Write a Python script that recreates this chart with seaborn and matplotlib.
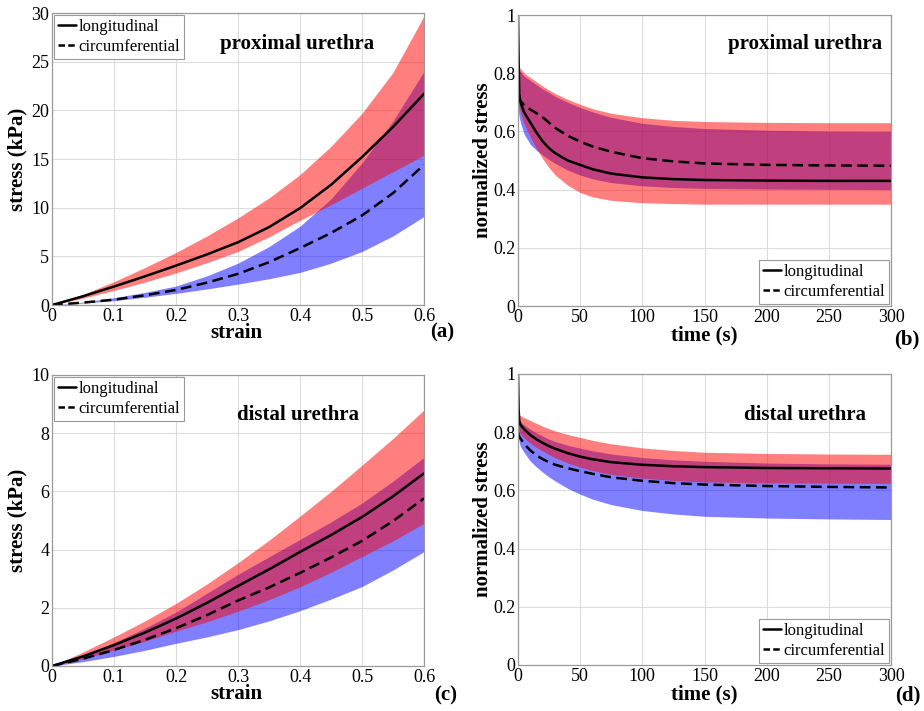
import numpy as np
import pandas as pd
import matplotlib
matplotlib.use("Agg")
import matplotlib.pyplot as plt
import seaborn as sns

# ---------------- data ----------------
strain = [0, 0.05, 0.1, 0.15, 0.2, 0.25, 0.3, 0.35, 0.4, 0.45, 0.5, 0.55, 0.6]

# (a) proximal urethra, stress (kPa)
a_long = [0, 0.9, 1.9, 2.95, 4.05, 5.2, 6.45, 8.0, 9.95, 12.35, 15.2, 18.3, 21.7]
a_long_hi = [0, 1.1, 2.4, 3.85, 5.4, 7.1, 8.95, 11.0, 13.4, 16.3, 19.7, 23.9, 29.7]
a_long_lo = [0, 0.7, 1.5, 2.35, 3.3, 4.35, 5.5, 7.0, 8.7, 10.3, 12.0, 13.7, 15.4]
a_circ = [0, 0.25, 0.55, 1.0, 1.55, 2.3, 3.2, 4.4, 5.85, 7.4, 9.2, 11.5, 14.4]
a_circ_hi = [0, 0.3, 0.75, 1.3, 1.95, 3.0, 4.3, 6.0, 8.1, 10.9, 14.6, 18.9, 24.0]
a_circ_lo = [0, 0.2, 0.45, 0.8, 1.2, 1.65, 2.15, 2.7, 3.35, 4.3, 5.5, 7.1, 9.1]

# (c) distal urethra, stress (kPa)
c_long = [0, 0.33, 0.72, 1.15, 1.63, 2.17, 2.75, 3.32, 3.92, 4.5, 5.12, 5.83, 6.62]
c_long_hi = [0, 0.48, 1.0, 1.55, 2.15, 2.82, 3.55, 4.32, 5.15, 6.0, 6.9, 7.82, 8.8]
c_long_lo = [0, 0.25, 0.55, 0.85, 1.2, 1.52, 1.88, 2.28, 2.72, 3.22, 3.76, 4.3, 4.9]
c_circ = [0, 0.25, 0.55, 0.9, 1.3, 1.75, 2.25, 2.7, 3.2, 3.73, 4.3, 4.98, 5.76]
c_circ_hi = [0, 0.36, 0.8, 1.3, 1.85, 2.5, 3.15, 3.75, 4.35, 4.95, 5.6, 6.35, 7.17]
c_circ_lo = [0, 0.15, 0.33, 0.54, 0.78, 1.0, 1.25, 1.55, 1.9, 2.3, 2.73, 3.3, 3.93]

time_s = [0, 0.5, 1, 2, 5, 10, 15, 20, 25, 30, 40, 50, 60, 75, 100, 125, 150, 200, 250, 300]

# (b) proximal urethra, normalized stress
b_long = [1.0, 0.85, 0.73, 0.70, 0.665, 0.63, 0.595, 0.565, 0.542, 0.525, 0.5, 0.485,
          0.47, 0.455, 0.442, 0.436, 0.433, 0.431, 0.43, 0.43]
b_long_hi = [0.83, 0.825, 0.82, 0.815, 0.80, 0.785, 0.77, 0.755, 0.742, 0.73, 0.71, 0.693,
             0.678, 0.662, 0.647, 0.638, 0.634, 0.631, 0.63, 0.63]
b_long_lo = [0.70, 0.69, 0.68, 0.665, 0.625, 0.58, 0.54, 0.505, 0.475, 0.45, 0.415, 0.39,
             0.375, 0.363, 0.355, 0.352, 0.35, 0.35, 0.35, 0.35]
b_circ = [0.72, 0.715, 0.71, 0.705, 0.69, 0.675, 0.662, 0.648, 0.63, 0.612, 0.585, 0.565,
          0.548, 0.53, 0.508, 0.497, 0.49, 0.485, 0.483, 0.482]
b_circ_hi = [0.82, 0.815, 0.81, 0.805, 0.79, 0.775, 0.76, 0.745, 0.733, 0.72, 0.70, 0.682,
             0.667, 0.648, 0.628, 0.617, 0.61, 0.604, 0.601, 0.60]
b_circ_lo = [0.68, 0.665, 0.65, 0.63, 0.59, 0.555, 0.535, 0.518, 0.503, 0.49, 0.467, 0.45,
             0.437, 0.424, 0.413, 0.407, 0.404, 0.402, 0.401, 0.40]

# (d) distal urethra, normalized stress
d_long = [1.0, 0.88, 0.84, 0.825, 0.81, 0.79, 0.775, 0.763, 0.752, 0.743, 0.728, 0.716,
          0.707, 0.697, 0.688, 0.683, 0.68, 0.677, 0.676, 0.675]
d_long_hi = [0.865, 0.862, 0.86, 0.857, 0.85, 0.84, 0.83, 0.82, 0.812, 0.804, 0.792, 0.782,
             0.772, 0.76, 0.746, 0.737, 0.731, 0.727, 0.725, 0.724]
d_long_lo = [0.82, 0.81, 0.80, 0.795, 0.78, 0.762, 0.747, 0.735, 0.723, 0.712, 0.694, 0.68,
             0.668, 0.655, 0.642, 0.634, 0.629, 0.626, 0.625, 0.624]
d_circ = [0.80, 0.79, 0.785, 0.778, 0.76, 0.737, 0.72, 0.707, 0.697, 0.688, 0.676, 0.666,
          0.657, 0.645, 0.633, 0.625, 0.62, 0.615, 0.612, 0.61]
d_circ_hi = [0.85, 0.845, 0.84, 0.835, 0.825, 0.81, 0.797, 0.786, 0.776, 0.768, 0.755, 0.745,
             0.736, 0.725, 0.713, 0.705, 0.70, 0.694, 0.691, 0.69]
d_circ_lo = [0.80, 0.78, 0.765, 0.75, 0.73, 0.70, 0.68, 0.662, 0.646, 0.632, 0.607, 0.587,
             0.57, 0.551, 0.531, 0.519, 0.511, 0.505, 0.502, 0.50]

strain_ticks = [0, 0.1, 0.2, 0.3, 0.4, 0.5, 0.6]
strain_ticklabels = ["0", "0.1", "0.2", "0.3", "0.4", "0.5", "0.6"]
time_ticks = [0, 50, 100, 150, 200, 250, 300]
norm_ticks = [0, 0.2, 0.4, 0.6, 0.8, 1.0]
norm_ticklabels = ["0", "0.2", "0.4", "0.6", "0.8", "1"]

# ---------------- style ----------------
sns.set_style("whitegrid")
plt.rcParams["font.family"] = ["Liberation Serif", "DejaVu Serif"]
plt.rcParams["text.color"] = "black"
plt.rcParams["axes.labelcolor"] = "black"
plt.rcParams["xtick.color"] = "black"
plt.rcParams["ytick.color"] = "black"

fig = plt.figure(figsize=(9.24, 7.11), dpi=100)

RED = "#ff0000"
BLUE = "#0000ff"


def draw(ax, x, lo_l, hi_l, mid_l, lo_c, hi_c, mid_c, name, tx, ty, xlab, ylab,
         xlim, ylim, xt, xtl, yt, ytl, legloc, letter, lpos, ylc, xlc):
    ax.fill_between(x, lo_c, hi_c, color=BLUE, alpha=0.5, linewidth=0)
    ax.fill_between(x, lo_l, hi_l, color=RED, alpha=0.5, linewidth=0)
    df = pd.DataFrame({"x": x, "long": mid_l, "circ": mid_c})
    sns.lineplot(data=df, x="x", y="long", ax=ax, color="black", lw=1.8,
                 label="longitudinal")
    sns.lineplot(data=df, x="x", y="circ", ax=ax, color="black", lw=1.8,
                 linestyle=(0, (4.3, 2.2)), label="circumferential")
    ax.set_xlim(*xlim)
    ax.set_ylim(*ylim)
    ax.set_xticks(xt)
    ax.set_xticklabels(xtl)
    ax.set_yticks(yt)
    ax.set_yticklabels(ytl)
    ax.tick_params(axis="both", labelsize=13, direction="in", length=3,
                   color="#888888", labelcolor="black", pad=2)
    ax.grid(True, color="#dcdcdc", lw=0.8)
    for s in ax.spines.values():
        s.set_color("#9a9a9a")
        s.set_linewidth(0.9)
    ax.set_xlabel(xlab, fontsize=15, fontweight="bold", color="black")
    ax.set_ylabel(ylab, fontsize=15, fontweight="bold", color="black")
    ax.xaxis.set_label_coords(*xlc)
    ax.yaxis.set_label_coords(*ylc)
    ax.text(tx, ty, name, transform=ax.transAxes, fontsize=15,
            fontweight="bold", ha="center", va="center", color="black")
    leg = ax.legend(loc=legloc, fontsize=12, handlelength=1.1,
                    handletextpad=0.15, borderpad=0.25, labelspacing=0.25,
                    borderaxespad=0.1, fancybox=False, framealpha=1)
    leg.get_frame().set_edgecolor("#9a9a9a")
    leg.get_frame().set_linewidth(0.8)
    leg.get_lines()[1].set_linestyle((0, (2.6, 1.3)))
    for t in leg.get_texts():
        t.set_color("black")
    fig.text(lpos[0], lpos[1], letter, fontsize=15, fontweight="bold",
             ha="center", va="center", color="black")


ax_a = fig.add_axes([0.0563, 0.571, 0.4026, 0.4107])
draw(ax_a, strain, a_long_lo, a_long_hi, a_long, a_circ_lo, a_circ_hi, a_circ,
     "proximal urethra", 0.66, 0.895, "strain", "stress (kPa)",
     (0, 0.6), (0, 30), strain_ticks, strain_ticklabels,
     [0, 5, 10, 15, 20, 25, 30], ["0", "5", "10", "15", "20", "25", "30"],
     "upper left", "(a)", (0.479, 0.532), (-0.065, 0.5), (0.497, -0.062))

ax_b = fig.add_axes([0.5606, 0.5696, 0.4037, 0.4093])
draw(ax_b, time_s, b_long_lo, b_long_hi, b_long, b_circ_lo, b_circ_hi, b_circ,
     "proximal urethra", 0.77, 0.9, "time (s)", "normalized stress",
     (0, 300), (0, 1), time_ticks, [str(t) for t in time_ticks],
     norm_ticks, norm_ticklabels,
     "lower right", "(b)", (0.981, 0.522), (-0.067, 0.5), (0.499, -0.068))

ax_c = fig.add_axes([0.0563, 0.0633, 0.4026, 0.4093])
draw(ax_c, strain, c_long_lo, c_long_hi, c_long, c_circ_lo, c_circ_hi, c_circ,
     "distal urethra", 0.66, 0.862, "strain", "stress (kPa)",
     (0, 0.6), (0, 10), strain_ticks, strain_ticklabels,
     [0, 2, 4, 6, 8, 10], ["0", "2", "4", "6", "8", "10"],
     "upper left", "(c)", (0.482, 0.022), (-0.065, 0.5), (0.497, -0.062))

ax_d = fig.add_axes([0.5606, 0.0647, 0.4037, 0.4093])
draw(ax_d, time_s, d_long_lo, d_long_hi, d_long, d_circ_lo, d_circ_hi, d_circ,
     "distal urethra", 0.77, 0.86, "time (s)", "normalized stress",
     (0, 300), (0, 1), time_ticks, [str(t) for t in time_ticks],
     norm_ticks, norm_ticklabels,
     "lower right", "(d)", (0.983, 0.022), (-0.067, 0.5), (0.499, -0.068))

fig.savefig("out.png", dpi=100)
